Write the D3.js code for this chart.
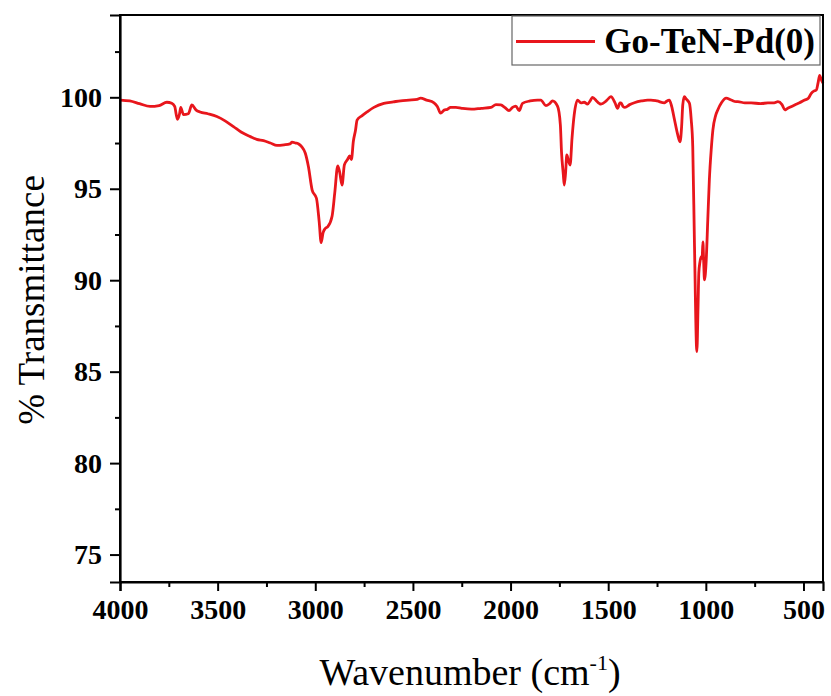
<!DOCTYPE html>
<html>
<head>
<meta charset="utf-8">
<script src="https://cdn.jsdelivr.net/npm/d3@7"></script>
<style>
  body { margin: 0; background: #fff; }
  svg { display: block; }
  text { font-family: "Liberation Serif", "Times New Roman", serif; }
</style>
</head>
<body>
<svg id="chart" width="831" height="696"></svg>
<script>
// ---- data ----
const seriesName = "Go-TeN-Pd(0)";
const wavenumber = [
  3998, 3950, 3900, 3846, 3800, 3760, 3735, 3720, 3706, 3695, 3689, 3675, 3650, 3632, 3610, 3590,
  3550, 3504, 3460, 3419, 3380, 3333, 3300, 3265, 3230, 3196, 3160, 3130, 3119, 3100, 3085, 3070,
  3051, 3035, 3016, 2994, 2980, 2970, 2960, 2948, 2936, 2914, 2900, 2885, 2875, 2863, 2851, 2835,
  2824, 2815, 2805, 2794, 2786, 2760, 2735, 2700, 2649, 2600, 2563, 2520, 2478, 2461, 2430, 2392,
  2375, 2358, 2340, 2324, 2307, 2280, 2250, 2200, 2150, 2100, 2075, 2050, 2030, 2008, 1990, 1973,
  1956, 1939, 1900, 1862, 1845, 1819, 1800, 1785, 1759, 1745, 1739, 1730, 1725, 1718, 1712, 1705,
  1695, 1685, 1674, 1657, 1640, 1623, 1606, 1590, 1580, 1560, 1546, 1537, 1510, 1486, 1465, 1452,
  1440, 1434, 1424, 1414, 1390, 1366, 1330, 1298, 1281, 1250, 1212, 1204, 1187, 1175, 1161, 1145,
  1132, 1124, 1118, 1110, 1100, 1084, 1075, 1067, 1058, 1046, 1040, 1036, 1030, 1024, 1019, 1015,
  1011, 1007, 998, 990, 982, 972, 964, 950, 939, 920, 896, 870, 845, 836, 800, 768,
  720, 682, 650, 631, 610, 595, 588, 570, 545, 520, 494, 475, 460, 445, 434, 425,
  417, 410, 400
];
const transmittance = [
  99.85, 99.8, 99.65, 99.5, 99.55, 99.73, 99.67, 99.5, 98.8, 99.1, 99.45, 99.05, 99.1, 99.58, 99.3, 99.2,
  99.1, 98.95, 98.7, 98.4, 98.1, 97.85, 97.7, 97.63, 97.5, 97.37, 97.4, 97.45, 97.55, 97.5, 97.45, 97.3,
  96.94, 96.2, 94.93, 94.48, 93.2, 92.05, 92.6, 92.84, 92.93, 93.5, 94.8, 96.25, 95.9, 95.2, 96.3, 96.6,
  96.79, 96.6, 97.6, 98.2, 98.75, 99.0, 99.2, 99.45, 99.67, 99.75, 99.81, 99.85, 99.89, 99.95, 99.85, 99.7,
  99.5, 99.13, 99.3, 99.34, 99.45, 99.45, 99.4, 99.35, 99.4, 99.45, 99.6, 99.58, 99.45, 99.27, 99.45, 99.52,
  99.27, 99.67, 99.8, 99.85, 99.85, 99.54, 99.65, 99.8, 99.5, 98.5, 97.0, 95.8, 95.2, 95.9, 96.85, 96.6,
  96.3, 97.8, 99.05, 99.85, 99.7, 99.73, 99.63, 99.85, 100.0, 99.8, 99.67, 99.63, 99.8, 100.04, 99.7, 99.4,
  99.7, 99.7, 99.5, 99.45, 99.6, 99.7, 99.8, 99.85, 99.85, 99.8, 99.7, 99.76, 99.85, 99.5, 98.8, 98.0,
  97.57, 98.4, 99.6, 100.03, 99.9, 99.67, 98.8, 97.3, 91.84, 86.1, 88.5, 90.38, 91.0, 91.29, 91.2, 92.1,
  91.0, 90.02, 91.1, 93.3, 95.48, 97.2, 98.21, 99.0, 99.31, 99.7, 99.95, 99.85, 99.76, 99.76, 99.7, 99.7,
  99.65, 99.7, 99.7, 99.76, 99.6, 99.31, 99.35, 99.45, 99.58, 99.7, 99.85, 99.95, 100.22, 100.35, 100.4, 100.8,
  101.2, 101.0, 100.77
];
const xTicks = [4000, 3500, 3000, 2500, 2000, 1500, 1000, 500];
const xMinorTicks = [3750, 3250, 2750, 2250, 1750, 1250, 750];
const yTicks = [75, 80, 85, 90, 95, 100];
const yMinorTicks = [77.5, 82.5, 87.5, 92.5, 97.5, 102.5];

// ---- layout ----
const svg = d3.select("#chart");
const L = 120, T = 15, R = 823, B = 582;
const x = d3.scaleLinear().domain([4000, 400]).range([L, R]);
const y = d3.scaleLinear().domain([73.5, 104.5]).range([B, T]);
const red = "#e8161c";

const pts = wavenumber.map((w, i) => [w, transmittance[i]]);

// curve
svg.append("path")
  .datum(pts)
  .attr("fill", "none")
  .attr("stroke", red)
  .attr("stroke-width", 2.8)
  .attr("stroke-linejoin", "round")
  .attr("d", d3.line().x(d => x(d[0])).y(d => y(d[1])).curve(d3.curveMonotoneX));

// frame
svg.append("rect")
  .attr("x", L).attr("y", T).attr("width", R - L).attr("height", B - T)
  .attr("fill", "none").attr("stroke", "#000").attr("stroke-width", 2);

// bottom axis
const xAxis = svg.append("g").attr("transform", `translate(0,${B})`)
  .call(d3.axisBottom(x).tickValues(xTicks).tickSize(9).tickPadding(8).tickFormat(d3.format("d")));
xAxis.select(".domain").attr("stroke-width", 2.2);
xAxis.selectAll(".tick line").attr("stroke-width", 2);
xAxis.selectAll("text").attr("font-size", 28).attr("font-weight", "bold")
  .attr("font-family", "Liberation Serif, serif").attr("fill", "#000");
svg.append("g").attr("transform", `translate(0,${B})`)
  .call(d3.axisBottom(x).tickValues(xMinorTicks).tickSize(5).tickFormat(""))
  .call(g => g.select(".domain").remove())
  .selectAll(".tick line").attr("stroke-width", 2);

// left axis
const yAxis = svg.append("g").attr("transform", `translate(${L},0)`)
  .call(d3.axisLeft(y).tickValues(yTicks).tickSize(10).tickPadding(8).tickFormat(d3.format("d")));
yAxis.select(".domain").attr("stroke-width", 2.2);
yAxis.selectAll(".tick line").attr("stroke-width", 2);
yAxis.selectAll("text").attr("font-size", 28).attr("font-weight", "bold")
  .attr("font-family", "Liberation Serif, serif").attr("fill", "#000");
svg.append("g").attr("transform", `translate(${L},0)`)
  .call(d3.axisLeft(y).tickValues(yMinorTicks).tickSize(5).tickFormat(""))
  .call(g => g.select(".domain").remove())
  .selectAll(".tick line").attr("stroke-width", 2);

// axis titles
svg.append("text")
  .attr("transform", `translate(44,300) rotate(-90)`)
  .attr("text-anchor", "middle")
  .attr("font-size", 37)
  .attr("fill", "#000")
  .text("% Transmittance");

const xt = svg.append("text")
  .attr("x", 470).attr("y", 685)
  .attr("text-anchor", "middle")
  .attr("font-size", 38)
  .attr("fill", "#000");
xt.append("tspan").text("Wavenumber (cm");
xt.append("tspan").attr("font-size", 22).attr("dy", -15).text("-1");
xt.append("tspan").attr("dy", 15).text(")");

// legend
const lg = svg.append("g");
lg.append("rect").attr("x", 512).attr("y", 16).attr("width", 308).attr("height", 49)
  .attr("fill", "#fff").attr("stroke", "#666").attr("stroke-width", 1.2);
lg.append("line").attr("x1", 516).attr("x2", 595).attr("y1", 41.5).attr("y2", 41.5)
  .attr("stroke", red).attr("stroke-width", 2.8);
lg.append("text").attr("x", 815).attr("y", 53).attr("text-anchor", "end")
  .attr("font-size", 35).attr("font-weight", "bold").attr("fill", "#000")
  .text(seriesName);
</script>
</body>
</html>
